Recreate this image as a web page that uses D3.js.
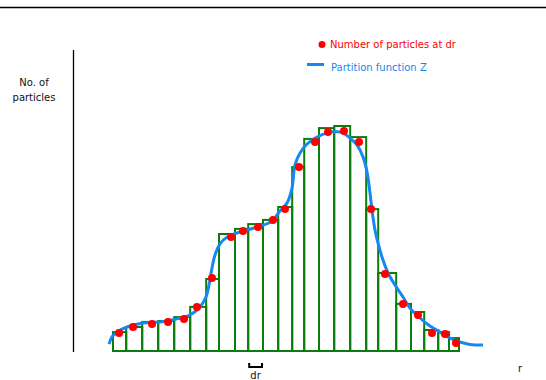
<!DOCTYPE html>
<html>
<head>
<meta charset="utf-8">
<script src="https://cdn.jsdelivr.net/npm/d3@7"></script>
<style>
  html, body { margin: 0; padding: 0; background: #fff; }
  svg { display: block; font-family: "DejaVu Sans", Verdana, sans-serif; }
</style>
</head>
<body>
<svg id="chart" width="546" height="380"></svg>
<script>
// Histogram bin edges along r (arbitrary units)
const binEdges = [10, 13.3, 17.3, 21.3, 25.3, 29.3, 33.3, 36.5, 40.5, 43.8, 47.5,
  51.3, 54.8, 57.8, 61.5, 65.3, 69.3, 73.3, 76.3, 80.8, 84.5, 87.8, 91.3, 94, 96.5];
// Bar heights (number of particles in each shell)
const binCounts = [6.3, 8, 9.7, 10, 11.3, 14.7, 24, 39, 40.7, 42.3, 43.7, 48,
  61.3, 70.7, 74.3, 75, 71.3, 47.3, 26, 15.7, 13, 7, 6.3, 4.3];
// Sampled particle counts at dr
const pointR = [11.5, 15, 19.75, 23.75, 27.75, 31, 34.75, 39.5, 42.5, 46.25, 50, 53,
  56.5, 60.5, 63.75, 67.75, 71.5, 74.5, 78, 82.5, 86.25, 89.75, 93, 95.75];
const pointN = [6, 8, 9, 9.7, 10.7, 14.7, 24.3, 38, 40, 41.3, 43.7, 47.3,
  61.3, 69.7, 73, 73.3, 69.7, 47.3, 25.7, 15.7, 12, 6, 5.7, 2.7];
// Partition function Z
const zR = [9, 9.75, 11, 13.5, 17.5, 21.75, 26, 29.25, 31.75, 33.25, 34, 34.75, 35.5,
  36.75, 38.25, 40.25, 42.5, 46, 49.75, 51.75, 53.5, 54.75, 55.5, 56.75, 58.5, 61,
  63.5, 65.5, 67.5, 69.25, 71, 72.5, 73.5, 74.25, 74.75, 75.5, 76.25, 77.5, 78.75,
  80.5, 82.5, 84.25, 86.75, 89.25, 91.75, 94.25, 96.75, 99.25, 102.5];
const zN = [2.3, 4.7, 6.3, 8, 9.3, 9.7, 10.7, 12, 14.7, 18, 22, 27.7, 32,
  35.7, 37.7, 39, 40, 41.3, 43.3, 46.7, 49.3, 54.3, 62, 66, 69, 71.3,
  72.7, 73.2, 72.7, 71, 68.7, 64.7, 59.7, 52.7, 47, 40.3, 36, 30.3, 26,
  22, 18, 14.3, 11, 8.3, 6.3, 4.3, 3, 2.2, 2];
// Marked shell width (index of bin)
const drBin = 9;

const legendLabels = ["Number of particles at dr", "Partition function Z"];
const yLabel = ["No. of", "particles"];
const xLabel = "r";

const svg = d3.select("#chart");
const green = "#0b7d0b", red = "#ff0000", blue = "#1688f0";

const x = d3.scaleLinear().domain([0, 112]).range([73, 521]);
const y = d3.scaleLinear().domain([0, 100]).range([351, 51]);

// top rule
svg.append("line").attr("x1", 0).attr("x2", 546).attr("y1", 7.5).attr("y2", 7.5)
  .attr("stroke", "#000").attr("stroke-width", 1.5);

// vertical axis
svg.append("line").attr("x1", 73.5).attr("x2", 73.5).attr("y1", 50).attr("y2", 352)
  .attr("stroke", "#000").attr("stroke-width", 1.3);

// y label
svg.append("text").attr("x", 34).attr("y", 86).attr("text-anchor", "middle")
  .attr("font-size", 10).attr("fill", "#111").text(yLabel[0]);
svg.append("text").attr("x", 34).attr("y", 101).attr("text-anchor", "middle")
  .attr("font-size", 10).attr("fill", "#111").text(yLabel[1]);

// x label
svg.append("text").attr("x", 520).attr("y", 372).attr("text-anchor", "middle")
  .attr("font-size", 10).attr("fill", "#111").text(xLabel);

// histogram bars
const bins = binCounts.map((c, i) => ({ x0: binEdges[i], x1: binEdges[i + 1], n: c }));
svg.append("g").selectAll("rect").data(bins).join("rect")
  .attr("x", d => x(d.x0))
  .attr("y", d => y(d.n))
  .attr("width", d => x(d.x1) - x(d.x0))
  .attr("height", d => y(0) - y(d.n))
  .attr("fill", "none")
  .attr("stroke", green)
  .attr("stroke-width", 2);

// partition function curve
const line = d3.line().x((d, i) => x(zR[i])).y(d => y(d)).curve(d3.curveCatmullRom.alpha(0.5));
svg.append("path").attr("d", line(zN))
  .attr("fill", "none").attr("stroke", blue).attr("stroke-width", 3);

// sampled points
svg.append("g").selectAll("circle").data(pointN).join("circle")
  .attr("cx", (d, i) => x(pointR[i]))
  .attr("cy", d => y(d))
  .attr("r", 4)
  .attr("fill", red);

// dr bracket
const bx0 = x(binEdges[drBin]) + 1, bx1 = x(binEdges[drBin + 1]) - 1;
svg.append("path")
  .attr("d", `M${bx0},363 V367 H${bx1} V363`)
  .attr("fill", "none").attr("stroke", "#000").attr("stroke-width", 2);
svg.append("text").attr("x", (bx0 + bx1) / 2).attr("y", 379).attr("text-anchor", "middle")
  .attr("font-size", 10).attr("fill", "#111").text("dr");

// legend
svg.append("circle").attr("cx", 322).attr("cy", 44.5).attr("r", 3.5).attr("fill", red);
svg.append("text").attr("x", 330).attr("y", 48).attr("font-size", 10).attr("fill", red)
  .text(legendLabels[0]);
svg.append("line").attr("x1", 307).attr("x2", 324).attr("y1", 64.5).attr("y2", 64.5)
  .attr("stroke", blue).attr("stroke-width", 3);
svg.append("text").attr("x", 331).attr("y", 71).attr("font-size", 10).attr("fill", blue)
  .text(legendLabels[1]);
</script>
</body>
</html>
